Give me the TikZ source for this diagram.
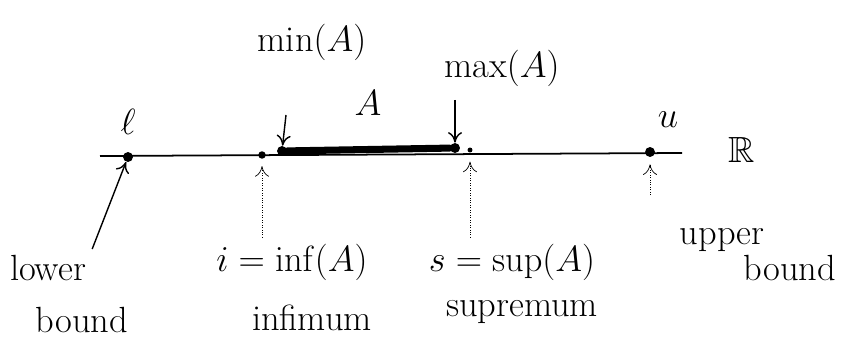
\documentclass[tikz,border=0pt]{standalone}
\usepackage{amsmath, amssymb}
\usetikzlibrary{arrows.meta}
\begin{document}
\begin{tikzpicture}[x=0.02cm, y=-0.02cm, font=\huge]
        \useasboundingbox (0,0) rectangle (847,351);

        % Draw points on the line
        \coordinate (left) at (100,156);
        \coordinate (right) at (682,153);
        \node[circle, fill, inner sep=2pt] (lpt) at (128,157) {};
        \node[circle, fill, inner sep=1.5pt] (ipt) at (262,155) {};
        \node[circle, fill, inner sep=2pt] (minpt) at (282,151) {};
        \node[circle, fill, inner sep=2pt] (maxpt) at (455,148) {};
        \node[circle, fill, inner sep=1pt] (spt) at (470,150) {};
        \node[circle, fill, inner sep=2pt] (upt) at (650,152) {};

        % Draw the line and the set
        \draw[line width=1pt] (left) -- (right);
        \draw[line width=4pt, line cap=round] (minpt) -- (maxpt);

        % Labels above
        \node (l) at (128,122) {$\ell$};
        \node (min) at (312,42) {min$(A)$};
        \node (A) at (368,103) {$A$};
        \node (max) at (502,68) {max$(A)$};
        \node (u) at (668,120) {$u$};
        \node (R) at (742,150) {$\mathbb{R}$};

        % Labels below
        \node (lower) at (48,268) {lower};
        \node (lowerb) at (82,320) {bound};
        \node (inf) at (292,262) {$i = \inf(A)$};
        \node (infn) at (312,318) {infimum};
        \node (sup) at (512,262) {$s = \sup(A)$};
        \node (supn) at (522,312) {supremum};
        \node (upper) at (722,240) {upper};
        \node (upperb) at (790,268) {bound};

        % Draw connections
        \draw[-{To[length=6pt, width=8pt]}, thick] (286,115) -- (minpt);
        \draw[-{To[length=6pt, width=8pt]}, thick] (455,100) -- (maxpt);
        \draw[-{To[length=6pt, width=8pt]}, thick] (lower.north east) -- (lpt);
        \draw[-{To[length=6pt, width=8pt]}, densely dotted, shorten >=4pt] (inf.north -| ipt) -- (ipt);
        \draw[-{To[length=6pt, width=8pt]}, densely dotted, shorten >=5pt] (sup.north -| spt) -- (spt);
        \draw[-{To[length=6pt, width=8pt]}, densely dotted, shorten >=4pt] (650,195) -- (upt);
    \end{tikzpicture}
\end{document}
